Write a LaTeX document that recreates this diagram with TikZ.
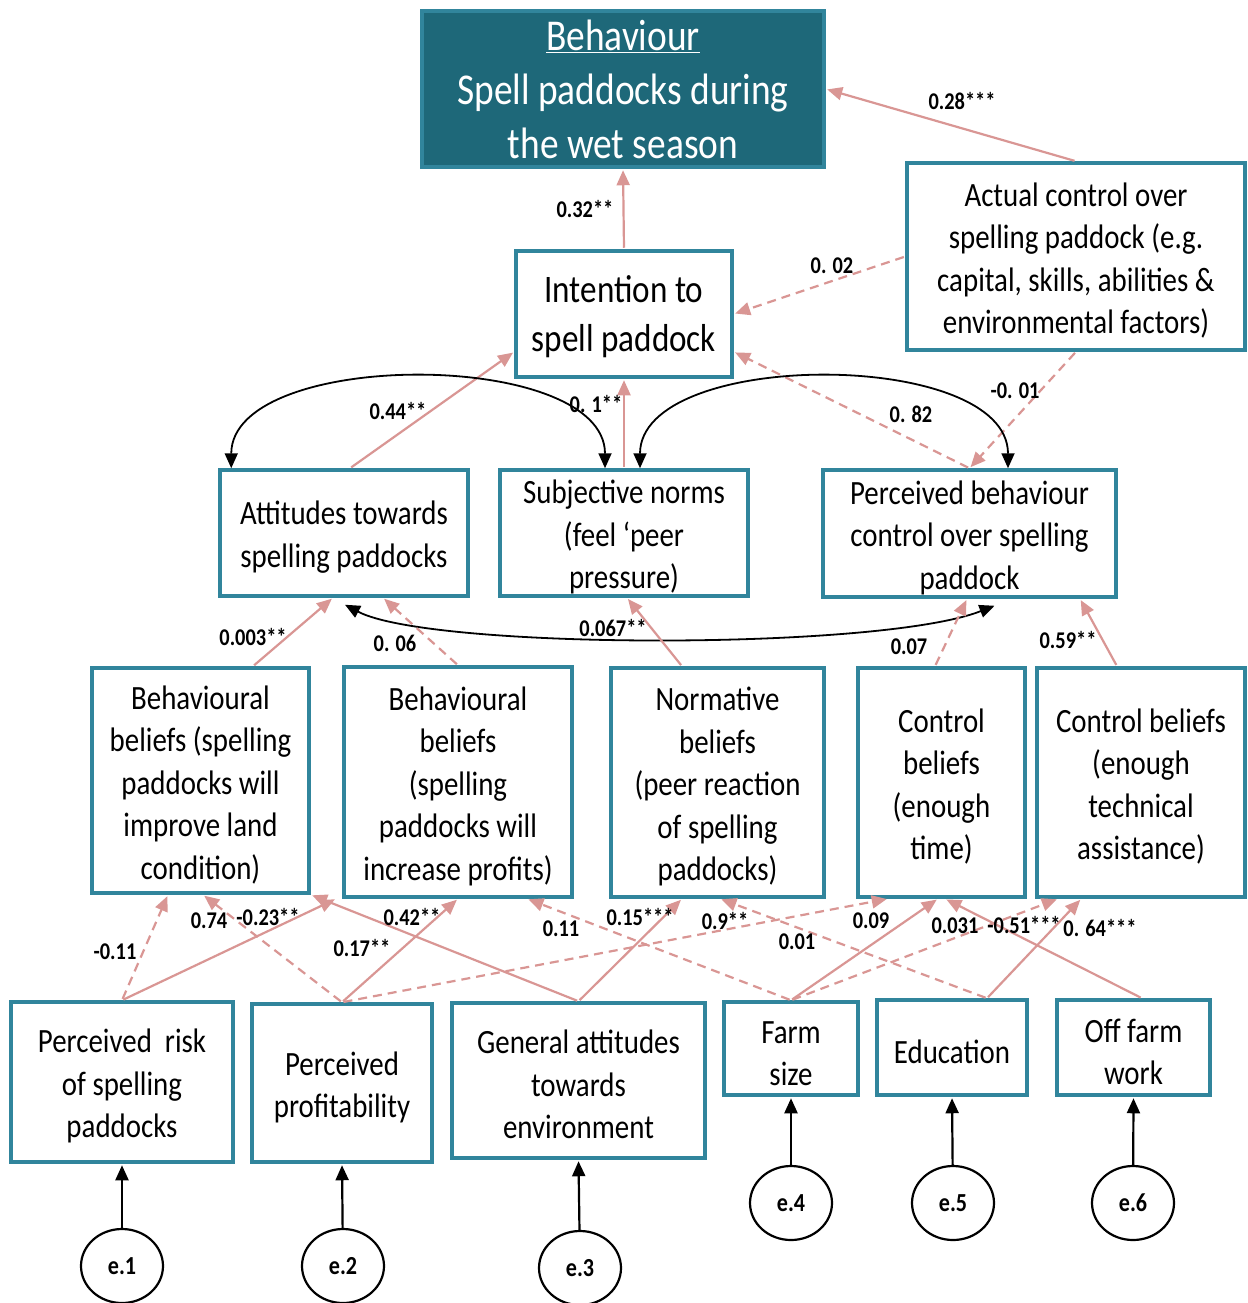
\documentclass[tikz,border=0pt]{standalone}
\usepackage{fontspec}
\setmainfont{Carlito}[FakeStretch=0.85]
\usetikzlibrary{shapes.geometric,arrows.meta}
\definecolor{boxline}{RGB}{49,133,156}
\definecolor{behfill}{RGB}{30,104,121}
\definecolor{pathpink}{RGB}{217,150,148}

% invisible strut that gives the first text line a little more headroom
\newcommand{\topgap}[1][32pt]{\rule{0pt}{#1}}

\tikzset{
  var/.style={draw=boxline, line width=3.5pt, fill=white, align=center, inner sep=0pt,
              font=\fontsize{34}{42.5}\selectfont},
  err/.style={ellipse, draw=black, line width=2.2pt, fill=white, minimum width=82pt,
              minimum height=74pt, inner sep=0pt, font=\bfseries\fontsize{26}{30}\selectfont},
  lab/.style={font=\bfseries\fontsize{24}{28}\selectfont, inner sep=0pt},
  sig/.style={draw=pathpink, line width=2.2pt, shorten >=1.5pt, shorten <=1.5pt,
              -{Triangle[length=15pt,width=13pt]}},
  ns/.style={sig, dash pattern=on 9pt off 6pt},
  cov/.style={draw=black, line width=1.8pt,
              {Triangle[length=15pt,width=13pt]}-{Triangle[length=15pt,width=13pt]}},
  errpath/.style={draw=black, line width=2.2pt, shorten >=1.5pt,
                  -{Triangle[length=15pt,width=13pt]}},
}

\begin{document}
\begin{tikzpicture}[x=1pt,y=-1pt]
\useasboundingbox (0,0) rectangle (1247,1303);

% ---- outcome and intention ----
\node[var, fill=behfill, text=white, minimum width=402pt, minimum height=156pt,
      font=\fontsize{44}{54}\selectfont] (beh) at (623,89)
  {\underline{Behaviour}\\Spell paddocks during\\the wet season};
\node[var, minimum width=216pt, minimum height=126pt, font=\fontsize{39}{49}\selectfont]
  (int) at (624,314) {\topgap[33pt]Intention to\\spell paddock};
\node[var, minimum width=338pt, minimum height=187pt] (act) at (1076,256.5)
  {\topgap Actual control over\\spelling paddock (e.g.\\capital, skills, abilities \&\\environmental factors)};

% ---- TPB constructs ----
\node[var, minimum width=248pt, minimum height=126pt] (att) at (344,533)
  {\topgap Attitudes towards\\spelling paddocks};
\node[var, minimum width=248pt, minimum height=126pt] (sn) at (624,533)
  {\topgap Subjective norms\\(feel ‘peer\\pressure)};
\node[var, minimum width=293pt, minimum height=127pt] (pbc) at (969.5,533.5)
  {\topgap Perceived behaviour\\control over spelling\\paddock};

% ---- beliefs ----
\node[var, minimum width=217pt, minimum height=225pt] (bb1) at (200.5,780.5)
  {\topgap Behavioural\\beliefs (spelling\\paddocks will\\improve land\\condition)};
\node[var, minimum width=228pt, minimum height=230pt] (bb2) at (458,782)
  {\topgap Behavioural\\beliefs\\(spelling\\paddocks will\\increase profits)};
\node[var, minimum width=213pt, minimum height=229pt] (nb) at (717.5,782.5)
  {\topgap Normative\\beliefs\\(peer reaction\\of spelling\\paddocks)};
\node[var, minimum width=167pt, minimum height=229pt] (cb1) at (941.5,782.5)
  {\topgap Control\\beliefs\\(enough\\time)};
\node[var, minimum width=208pt, minimum height=229pt] (cb2) at (1141,782.5)
  {\topgap Control beliefs\\(enough\\technical\\assistance)};

% ---- background factors ----
\node[var, minimum width=222pt, minimum height=160pt] (pr) at (122,1082)
  {\topgap Perceived\ \ risk\\of spelling\\paddocks};
\node[var, minimum width=180pt, minimum height=158pt] (pp) at (342,1083)
  {\topgap Perceived\\profitability};
\node[var, minimum width=253pt, minimum height=155pt] (ga) at (578.5,1080.5)
  {\topgap General attitudes\\towards\\environment};
\node[var, minimum width=134pt, minimum height=93pt] (fs) at (791,1048.5)
  {\topgap Farm\\size};
\node[var, minimum width=150pt, minimum height=95pt] (ed) at (952,1047.5)
  {\topgap Education};
\node[var, minimum width=153pt, minimum height=95pt] (of) at (1133.5,1047.5)
  {\topgap Off farm\\work};

% ---- error terms ----
\node[err] (e1) at (122,1266) {e.1};
\node[err] (e2) at (343,1266) {e.2};
\node[err] (e3) at (580,1268) {e.3};
\node[err] (e4) at (791,1203) {e.4};
\node[err] (e5) at (953,1203) {e.5};
\node[err] (e6) at (1133,1203) {e.6};

\draw[errpath] (e1) -- (pr.south);
\draw[errpath] (e2) -- (pp.south);
\draw[errpath] (e3) -- (ga.south);
\draw[errpath] (e4) -- (fs.south);
\draw[errpath] (e5) -- (ed.south);
\draw[errpath] (e6) -- (of.south);

% ---- upper paths ----
\draw[sig] (int.north) -- (beh.south);
\draw[sig] (act.north) -- (beh.east);
\draw[ns] (act.west) -- (int.east);
\draw[ns] (act.south) -- (pbc.north);
\draw[sig] ([xshift=6pt]att.north) -- ([yshift=27pt]int.south west);
\draw[sig] (sn.north) -- (int.south);
\draw[ns] (pbc.north) -- ([yshift=27pt]int.south east);

% ---- covariances ----
\draw[cov] ([xshift=13pt]att.north west) .. controls +(0,-120) and +(0,-120) .. ([xshift=-19pt]sn.north);
\draw[cov] ([xshift=16pt]sn.north) .. controls +(0,-120) and +(0,-120) .. ([xshift=38.5pt]pbc.north);
\draw[cov] ([xshift=1pt,yshift=-7pt]att.south) .. controls +(85,45) and +(-115,45) .. ([xshift=25pt,yshift=-7pt]pbc.south);

% ---- beliefs to constructs ----
\draw[sig] ([xshift=52.5pt]bb1.north) -- ([xshift=-11pt]att.south);
\draw[ns] (bb2.north) -- ([xshift=39pt]att.south);
\draw[sig] ([xshift=-35.5pt]nb.north) -- ([xshift=3pt]sn.south);
\draw[ns] ([xshift=-6.5pt]cb1.north) -- ([xshift=-2.5pt]pbc.south);
\draw[sig] ([xshift=-24pt]cb2.north) -- ([xshift=110.5pt]pbc.south);

% ---- background factors to beliefs ----
\draw[ns] (pr.north) -- ([xshift=-32.5pt]bb1.south);
\draw[sig] (pr.north) -- ([xshift=-6pt]bb2.south west);
\draw[ns] (pp.north) -- ([xshift=2.5pt]bb1.south);
\draw[sig] (pp.north) -- (bb2.south);
\draw[ns] (pp.north) -- ([xshift=32pt]cb1.south west);
\draw[sig] (ga.north) -- (bb1.south east);
\draw[sig] (ga.north) -- ([xshift=-35.5pt]nb.south);
\draw[ns] (fs.north) -- ([xshift=69pt]bb2.south);
\draw[sig] (fs.north) -- ([xshift=-3.5pt]cb1.south);
\draw[ns] (fs.north) -- ([xshift=23pt]cb2.south west);
\draw[ns] ([xshift=35pt]ed.north) -- ([xshift=2.5pt]nb.south);
\draw[sig] ([xshift=35pt]ed.north) -- ([xshift=46pt]cb2.south west);
\draw[sig] ([xshift=8.5pt]of.north) -- ([xshift=3.5pt]cb1.south);

% ---- coefficients ----
\node[lab] (c1) at (962,101) {0.28***};
\node[lab] (c2) at (585,209) {0.32**};
\node[lab] (c3) at (832,266) {0. 02};
\node[lab] (c4) at (398,411) {0.44**};
\node[lab] (c5) at (596,404) {0. 1**};
\node[lab] (c6) at (911,414) {0. 82};
\node[lab] (c7) at (1015,391) {-0. 01};
\node[lab] (c8) at (253,637) {0.003**};
\node[lab] (c9) at (395,643) {0. 06};
\node[lab] (c10) at (613,628) {0.067**};
\node[lab] (c11) at (909,647) {0.07};
\node[lab] (c12) at (1068,640) {0.59**};
\node[lab] (c13) at (115,952) {-0.11};
\node[lab] (c14) at (209,921) {0.74};
\node[lab] (c15) at (268,917) {-0.23**};
\node[lab] (c16) at (362,948) {0.17**};
\node[lab] (c17) at (412,917) {0.42**};
\node[lab] (c18) at (561,929) {0.11};
\node[lab] (c19) at (640,917) {0.15***};
\node[lab] (c20) at (725,921) {0.9**};
\node[lab] (c21) at (797,942) {0.01};
\node[lab] (c22) at (871,921) {0.09};
\node[lab] (c23) at (955,926) {0.031};
\node[lab] (c24) at (1024,925) {-0.51***};
\node[lab] (c25) at (1100,928) {0. 64***};
\end{tikzpicture}
\end{document}
